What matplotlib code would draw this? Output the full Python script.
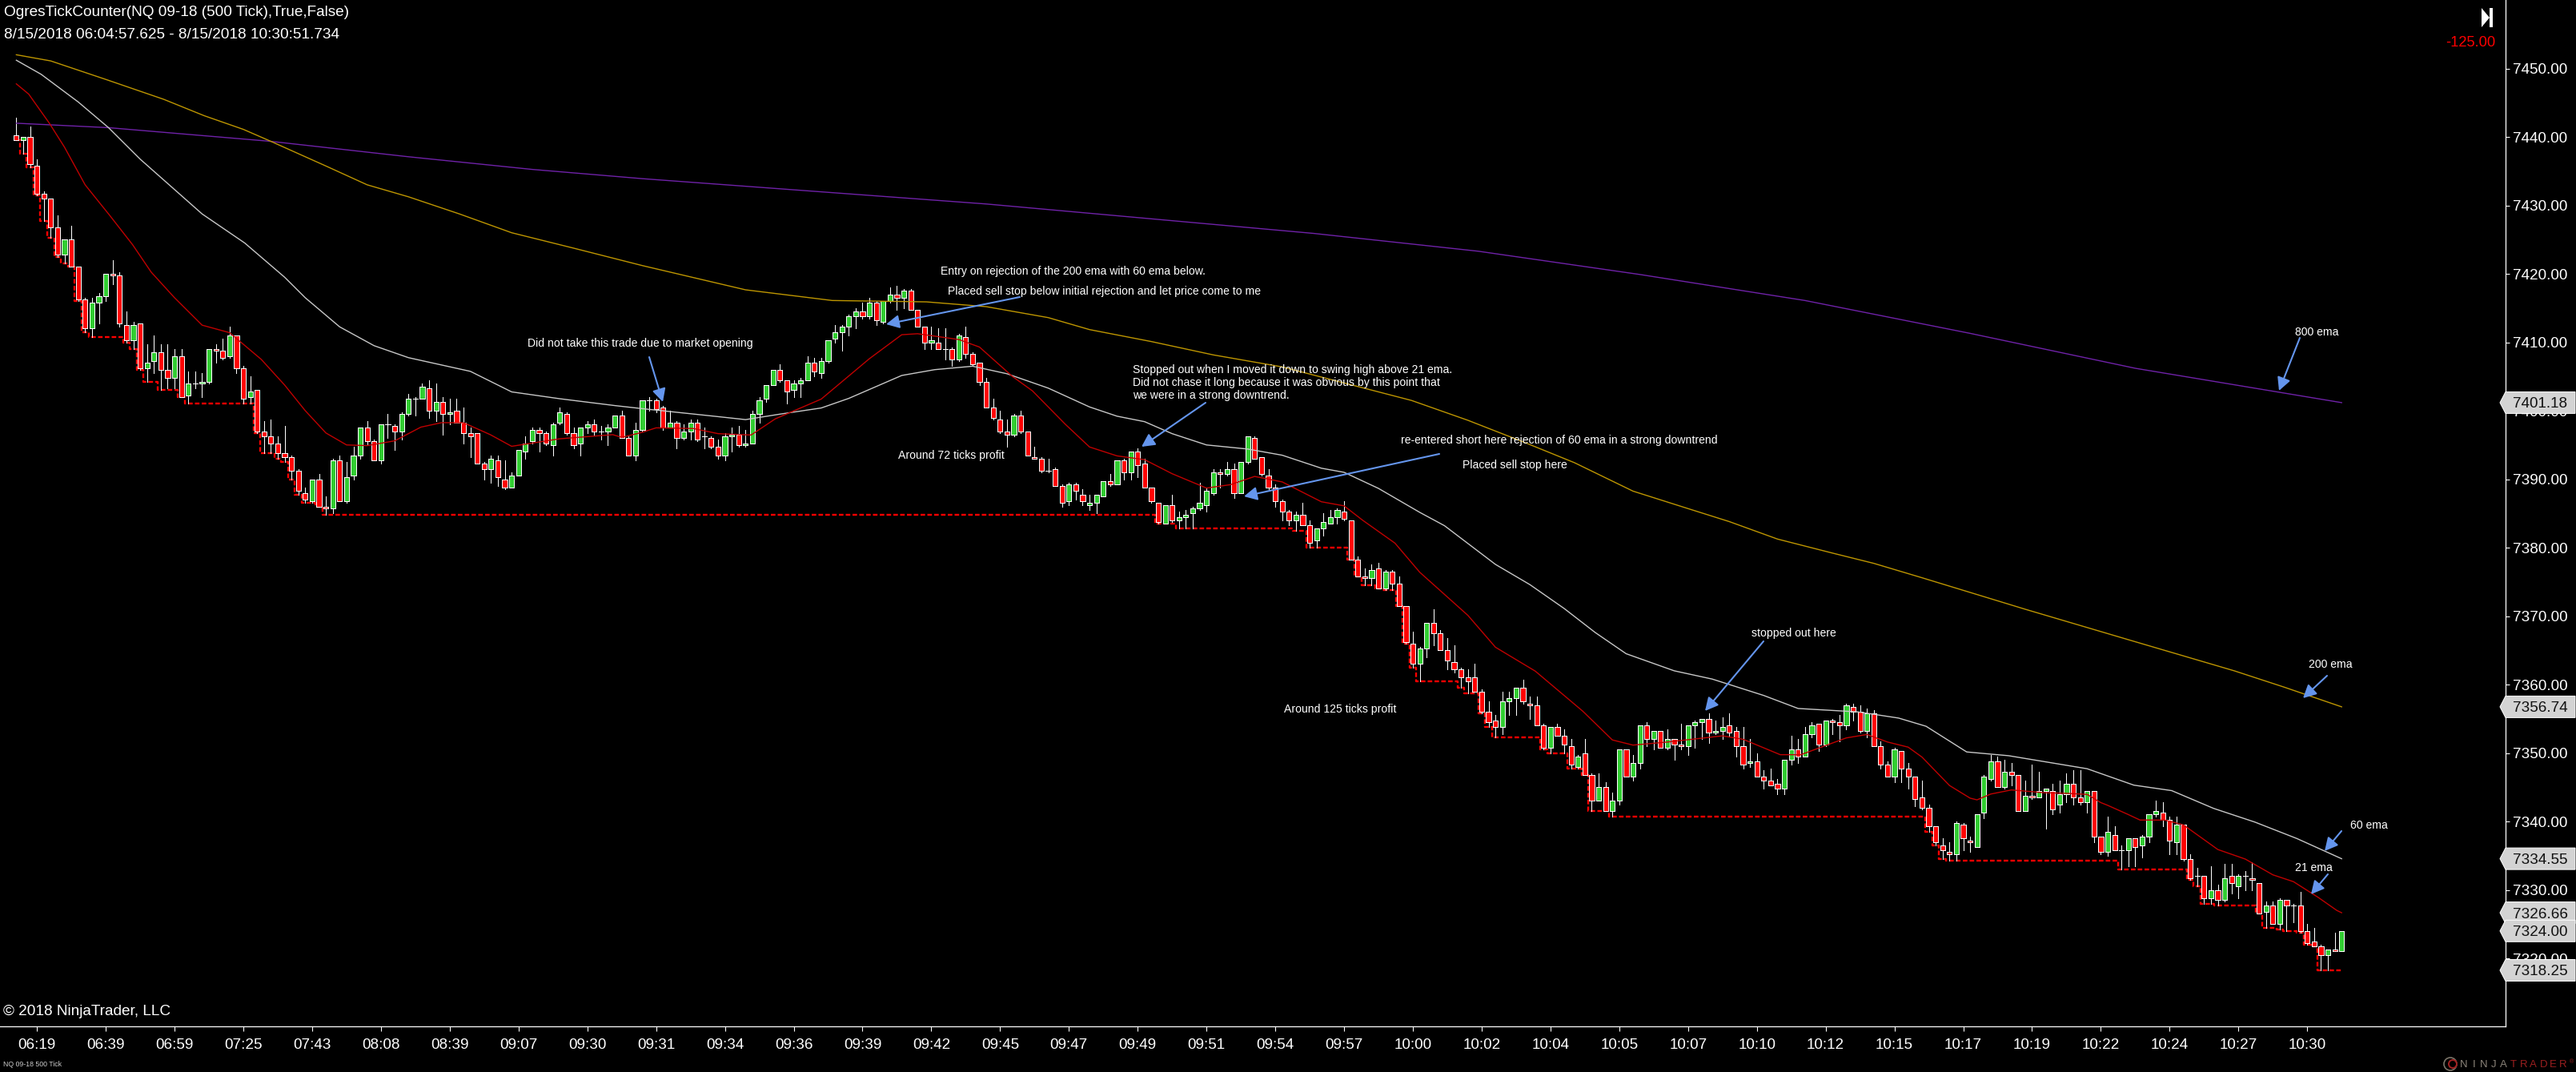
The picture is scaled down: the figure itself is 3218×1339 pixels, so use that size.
import numpy as np
import matplotlib
matplotlib.use('Agg')
import matplotlib.pyplot as plt
from matplotlib.patches import Polygon, Rectangle, Circle
from matplotlib.transforms import IdentityTransform

plt.rcParams['font.family'] = ['Liberation Sans', 'DejaVu Sans']

W, H = 3218, 1339

# candles, one row per ten bars
opens = [
    7440.25,7439.5,7440,7435.75,7431.75,7431,7426.75,7422.75,7425,7421,
    7416.25,7412,7415.75,7416.75,7420,7419.75,7412.5,7410.25,7412.75,7406.25,
    7407.25,7408.5,7406,7404.75,7408,7402.25,7404,7404,7404.25,7409,
    7408.75,7408,7411,7406.25,7402,7403,7397,7396.25,7395.25,7393.75,
    7393.25,7391.25,7388,7386.75,7390,7386,7385.75,7392.75,7386.75,7390.5,
    7393.5,7397.5,7395.5,7392.75,7398,7397.75,7397,7399.5,7401.75,7401.75,
    7403.25,7400,7401.25,7399.5,7400,7398.25,7396.75,7396.75,7392.25,7391.5,
    7392.75,7390,7388.75,7390.5,7394,7395.5,7397.25,7396.75,7395,7398.25,
    7399.5,7396.75,7395.25,7397.5,7398,7397,7397,7397.5,7399.25,7396,
    7393.5,7397.25,7401.5,7401.5,7400.5,7397.5,7398.25,7396,7397,7398.25,
    7396.25,7396,7394.75,7393.5,7396.25,7396.5,7395,7395.25,7399.5,7401.75,
    7403.75,7406,7404.5,7403,7404,7404.5,7407,7405.5,7407.25,7410.5,
    7411.5,7412.25,7413.75,7414.5,7413.75,7415.75,7413,7416,7417,7416.5,
    7417.5,7414.75,7412.25,7410,7410,7409,7409,7407.5,7410.75,7408.25,
    7407,7404.25,7400.5,7398.75,7397,7396.5,7399.25,7397,7393.25,7393,
    7391.25,7391.5,7389,7386.75,7389.25,7387.75,7386.25,7386.5,7387.5,7389.75,
    7389.25,7392.75,7391,7394,7392.25,7388.75,7386.5,7383.5,7386.25,7384,
    7384.5,7385,7385.75,7386.25,7388,7391,7390.75,7391.5,7388,7392.5,
    7396,7393.25,7390.5,7388.75,7386.75,7385.25,7384,7384.75,7383.25,7381,
    7382.75,7383.5,7384.5,7385.25,7384,7378.25,7375.75,7375.5,7377,7374,
    7376.5,7374.75,7371.5,7366,7363,7365.25,7369,7367.5,7365,7363.25,
    7362.25,7361,7361,7359,7356,7354.75,7353.75,7357.5,7358,7359.5,
    7357.25,7357,7354,7350.75,7353.75,7352.5,7351,7348,7350,7346.75,
    7343,7345,7341.5,7343,7350.5,7346.5,7348.5,7354,7352,7353.25,
    7350.75,7352,7351.25,7351,7354,7354.5,7355,7353,7353.25,7354,
    7353.25,7351,7348.5,7348.75,7346.5,7346,7345.5,7344.75,7349,7350.5,
    7349.5,7352.75,7354.25,7351.25,7354.75,7354.5,7354,7356.75,7356,7353.25,
    7355.75,7351,7348.25,7346.5,7350.25,7347.75,7346.5,7343.5,7342,7339.25,
    7336.5,7335.5,7335.25,7339.5,7337.25,7336.25,7341.25,7346.25,7348.75,7345,
    7347.25,7346.75,7341.5,7343.75,7343.5,7344.5,7344.5,7342.5,7344,7345.5,
    7343.5,7342.75,7344.5,7337.75,7335.5,7338,7335.75,7335.75,7337.5,7336.5,
    7337.75,7341,7341.25,7340.25,7337,7339.5,7334.5,7332,7332,7328.75,
    7330,7328.5,7332,7330.5,7332,7331.75,7331,7326.75,7327.75,7325,
    7328.5,7327.75,7327.75,7324,7322.5,7321.75,7320.5,7321.25,7321]

highs = [
    7442.75,7440,7441.5,7436.75,7432,7431,7428.5,7425,7427,7421,
    7416.5,7416.5,7417.25,7420,7422,7420.25,7414.5,7413,7412.75,7409.75,
    7411,7409.75,7409.75,7409,7409,7405.75,7405.75,7405.5,7409,7409.75,
    7410.5,7412.25,7411,7406.5,7405,7403,7398.5,7398.75,7396.25,7397.75,
    7393.5,7391.5,7388.75,7390,7390.75,7387.5,7393,7393.5,7392.5,7394.75,
    7397.5,7398.5,7395.75,7398,7399.5,7398,7399.75,7402.5,7402,7404,
    7404.5,7404,7402,7401.75,7401.75,7400.5,7397.5,7396.75,7392.5,7393.5,
    7393.5,7392.75,7391,7394.25,7396.25,7397.5,7397.5,7397,7398.25,7400.5,
    7399.75,7397.5,7397.5,7398.5,7398.75,7397.75,7398,7399.25,7400,7396.25,
    7398.25,7401.5,7402,7401.75,7400.75,7400,7398.5,7398,7398.75,7398.75,
    7397.5,7396.25,7395.75,7396.75,7397.5,7397.75,7397.25,7400,7402,7403.75,
    7406,7406.75,7404.5,7404.5,7404.75,7408,7407.75,7407.75,7410.25,7412.5,
    7412.5,7414,7415,7415.75,7416.5,7416,7416,7418,7418.25,7417.75,
    7417.75,7414.75,7412.25,7412.25,7412,7412,7409.25,7411.25,7412.25,7408.5,
    7407,7404.75,7401.75,7400,7398.75,7399.5,7400,7397,7394.75,7393.25,
    7393,7391.75,7389.25,7389.5,7389.5,7388.5,7387.75,7387.75,7389.75,7390.75,
    7392.75,7393,7394,7394.5,7393,7388.75,7386.5,7386.25,7387.75,7385.25,
    7385.5,7386,7389.5,7388.75,7391.5,7391.5,7392.5,7392.25,7392.5,7396.25,
    7396.25,7393.25,7391.5,7389.25,7387,7385.5,7385.25,7386.5,7384,7382.75,
    7385,7385.5,7385.75,7386.75,7384,7378.75,7377,7377.5,7377.75,7376.75,
    7376.75,7375.75,7371.5,7367.75,7365.5,7369,7371,7368,7366.75,7365.75,
    7362.5,7362.25,7363,7359.25,7357.5,7355.5,7359,7359,7359.5,7360.75,
    7358.25,7358.25,7354.25,7353.75,7354.25,7353.5,7352,7349.75,7352,7347,
    7347,7345.75,7344.25,7350.5,7350.5,7349.75,7354,7354.5,7353.25,7353.25,
    7353.5,7352,7354.25,7354,7354.75,7355,7355.75,7354.75,7355.25,7355.75,
    7353.75,7353.75,7352,7350,7347.5,7347.75,7346.25,7349,7352.5,7352,
    7353.75,7354.5,7354.25,7354.75,7355,7355.5,7357.25,7357.25,7357,7356.5,
    7356.25,7351.75,7348.75,7350.75,7350.25,7348.5,7346.5,7346,7342.5,7339.25,
    7337.5,7337,7340,7339.75,7337.75,7341,7346.75,7349.75,7349.5,7349,
    7348.5,7346.75,7346,7348.25,7347.25,7344.75,7345.5,7346,7347,7347.5,
    7347.5,7344.5,7344.5,7337.75,7340.75,7339.25,7336.5,7337.5,7337.5,7338,
    7341,7343,7342.75,7340.75,7340.75,7339.5,7335.25,7333.25,7332,7333.5,
    7330.75,7333.75,7333.75,7332.25,7332.75,7334,7331,7328.25,7328.25,7328.75,
    7328.5,7328,7329.75,7325,7324.5,7322,7321.25,7323.75,7324]

lows = [
    7439.5,7437.5,7435.5,7431.5,7427.75,7425.25,7422.5,7421.5,7421,7416,
    7411.5,7410.75,7412.75,7416,7418.5,7412.25,7410,7409,7406,7404.25,
    7405.5,7403,7403.25,7403.25,7402,7401,7403.25,7402,7404,7407,
    7407.5,7407.75,7405.5,7401,7401,7396.75,7393.75,7393.75,7393,7392.5,
    7390,7387.75,7386.5,7386.5,7386,7384.75,7385,7386.75,7386.5,7390,
    7393,7395,7392.75,7392.25,7396,7394.25,7395.75,7399.25,7399.25,7401.75,
    7399,7398.5,7396.5,7398,7398.25,7395.25,7393.25,7392.25,7390,7389.5,
    7389,7388.5,7388.75,7390.5,7393,7395.25,7394,7395,7393.5,7398,
    7396.5,7394.5,7393.5,7396.75,7396.5,7395.75,7395,7397.5,7396,7393.5,
    7392.75,7397,7400,7399.75,7397.25,7397.5,7394.5,7395.75,7395.75,7395.5,
    7394.5,7394.5,7393,7392.75,7394,7394.75,7394.75,7395.25,7398.25,7401.25,
    7403.75,7404.25,7401,7402,7402,7404.5,7405,7404.75,7407,7410,
    7408.75,7411,7412,7413.5,7413.5,7412.5,7412.75,7415.75,7414.75,7415,
    7414.75,7412.25,7409,7409,7409,7407.5,7406.5,7407.25,7407.75,7406.5,
    7403.75,7400.5,7398.75,7396.75,7394.75,7396.25,7396.75,7393.5,7393,7391,
    7391,7389,7386,7386.25,7387,7386.25,7385.5,7385,7387.5,7389,
    7389.25,7390,7390,7390.25,7388.75,7386.5,7383.5,7383.5,7383.75,7382.75,
    7382.75,7382.75,7385.5,7385.25,7387.75,7388.75,7390.5,7387.25,7388,7392.25,
    7393,7390.5,7388.5,7386,7384,7383.25,7382.5,7383.25,7380,7380,
    7381.75,7383.5,7383.5,7384,7378.25,7375.75,7374.5,7374.5,7374,7373.75,
    7373.75,7371.5,7366,7362.5,7360.5,7364,7365.75,7365,7362.25,7361.75,
    7359.5,7358.75,7359,7355.75,7353.75,7352.25,7352.75,7355.5,7355.5,7357.25,
    7355,7354,7350.5,7350,7352.5,7350,7347.75,7347.75,7346.75,7341.5,
    7343,7341.5,7340.75,7342.5,7346.5,7346,7347.75,7351,7350.5,7350.75,
    7350.5,7349,7350.5,7349.75,7350.75,7352,7351.5,7352.75,7352,7352.5,
    7349.5,7347.75,7348,7346.5,7344.75,7345.25,7344,7344,7348.25,7348.5,
    7349.5,7352.25,7350.25,7351,7352.75,7351.75,7353.5,7354.75,7353,7352.25,
    7351,7347.75,7346.5,7345.75,7345.75,7344.75,7342.25,7341.75,7338.5,7336.5,
    7334.5,7334.25,7334.25,7335.75,7335.5,7336.25,7340.5,7346,7345,7344.75,
    7345.25,7341.5,7341.5,7343.25,7343.5,7339,7341,7341.25,7342.75,7342.5,
    7342.5,7341.25,7337,7335.25,7335,7335.75,7333,7333.5,7333.5,7334.75,
    7337,7340.75,7339.25,7335.25,7335.25,7334.25,7331.5,7330.5,7328,7328,
    7327.75,7328.25,7329.5,7328.75,7330,7330,7326.5,7324.5,7325,7324.25,
    7324,7325.25,7323.75,7322,7321.75,7318.25,7318.25,7321,7321]

closes = [
    7439.5,7440,7436,7431.75,7431,7426.75,7422.75,7425,7421,7416.25,
    7412,7415.75,7416.75,7420,7419.75,7412.75,7410.25,7412.5,7406.25,7407,
    7408.5,7406,7404.75,7408,7402,7404,7404,7404.25,7409,7408.75,
    7407.75,7411,7406.25,7401.75,7402.75,7397,7396.25,7395.25,7393.75,7393.25,
    7391.25,7388.25,7387,7390,7386,7385.75,7392.75,7386.75,7390.25,7393.5,
    7397.5,7395.5,7392.75,7398,7398,7397,7399.5,7401.75,7401.75,7403.5,
    7400,7401.25,7399.5,7399.75,7398.25,7396.75,7396.25,7392.25,7391.5,7393,
    7390.25,7388.75,7390.5,7394.25,7395.25,7397.25,7396.75,7395.25,7398,7399.75,
    7396.75,7395,7397.5,7398,7397,7397,7397.5,7399.25,7396,7393.5,
    7397.25,7401.5,7401.5,7400.25,7397.5,7398.25,7396,7397,7398.25,7395.75,
    7396.25,7394.75,7393.5,7396.25,7396.5,7395,7395.25,7399.5,7401.5,7403.75,
    7406,7404.5,7402.75,7404,7404.5,7407,7405.75,7407.25,7410.25,7411.5,
    7412.25,7413.75,7414.5,7413.75,7415.75,7413.25,7416,7417,7416.5,7417.5,
    7414.75,7412.25,7410,7410.25,7409,7409,7407.5,7411,7408.25,7406.75,
    7404.25,7400.5,7399,7397,7396.5,7399.25,7397,7393.5,7393,7391.25,
    7391.25,7389,7386.5,7389.25,7388.25,7386.75,7386.5,7387.75,7389.75,7389.25,
    7392.75,7391,7394,7392,7388.75,7386.75,7383.75,7386.25,7384,7384.5,
    7384.75,7385.75,7386.5,7388.25,7391,7390.75,7391.5,7388,7392.5,7396.25,
    7393,7390.75,7388.75,7386.75,7385.25,7384,7384.75,7383.25,7380.75,7382.75,
    7383.75,7384.5,7385.5,7384.25,7378.25,7375.75,7375.5,7376.75,7374,7376.5,
    7374.75,7371.5,7366.25,7363,7365.25,7369,7367.5,7365,7363.5,7362.25,
    7361,7360.5,7359,7356,7354.5,7353.75,7357.5,7358,7359.5,7357.5,
    7357,7354,7350.75,7353.75,7352.5,7351.25,7348.25,7349.5,7346.75,7343,
    7345,7341.5,7343,7350.5,7346.5,7348.5,7354,7352,7353.25,7350.75,
    7352,7351.25,7351,7354,7354.5,7355,7353,7353.25,7353.75,7353,
    7351,7348.25,7348.75,7346.5,7346,7345.25,7344.75,7349,7350.5,7349.5,
    7352.75,7354,7351.25,7354.75,7354.5,7354,7357,7356,7353.25,7355.75,
    7351,7348.25,7346.5,7350.5,7347.75,7346.5,7343.25,7342,7339.25,7337,
    7335.75,7335.25,7339.75,7337.5,7337,7341,7346.5,7348.75,7345,7347.25,
    7346.75,7341.5,7343.75,7343.5,7344.5,7344.75,7341.75,7344,7345.5,7343.5,
    7342.75,7344.5,7337.75,7335.5,7338.5,7335.75,7335.75,7337.5,7336.25,7337.75,
    7341,7341.5,7340.25,7337.25,7339.5,7334.5,7331.75,7332,7328.75,7330,
    7328.5,7331.75,7331,7332,7332,7331.5,7326.5,7327.75,7325,7328.5,
    7327.75,7327.75,7324,7322.25,7321.75,7320.5,7321.25,7321,7324]

# moving averages: bar number and price pairs
ema800_bars = [0,13.4,37,57,75,91,141,188.6,212.5,236,260,284,308,338]
ema800 = [7442,7441.35,7439.35,7437.1,7435.25,7433.9,7430.2,7425.9,7423.3,7419.9,7416.1,7411.3,7406.2,7401.18]

ema200_bars = [0,5,13,21.4,27.3,33,37,45,51,57,64.4,72,81,91,106,118.6,132.3,141,150,156,165,174,184,
               202.8,211,219.4,226.5,235,243,249,256,264,270,277,292,307.5,322.4,329.7,338]
ema200 = [7452,7451.1,7448.4,7445.5,7443.1,7441.1,7439.35,7435.75,7433,7431.25,7428.75,7426,7423.75,7421.2,
          7417.66,7416.1,7415.9,7415.2,7413.6,7411.85,7410.1,7408.15,7406.4,7401.5,7398.6,7395.3,7392.4,
          7388.25,7385.7,7383.8,7381.25,7379.2,7377.7,7375.6,7371,7366.4,7362,7359.6,7356.74]

ema60_bars = [0,3.6,9,13.4,18,27,33.2,39,42,47,52,57,66,72,79,87,91,101.4,106,111,117,121,128.7,133.5,139,144,
              150,156,160,164,168,173,179,184,189.7,193,198,204,207.6,215,220,225,229.5,234,241,246.5,254,259,
              267.7,273.6,277.6,283.5,289.6,301,307.8,313.3,319.4,325.4,331.5,338]
ema60 = [7451.2,7449.15,7445.1,7441.35,7436.75,7428.75,7424.5,7419.5,7416.5,7412.25,7409.5,7407.75,7405.75,
         7402.75,7401.75,7400.75,7400.3,7399.2,7398.7,7399.5,7400.4,7401.8,7405.15,7406,7406.5,7405.4,7403.3,
         7400.55,7399.2,7398.4,7396.65,7395,7394.4,7393.5,7391.6,7391,7388.65,7385.15,7383.2,7377.55,7374.6,
         7371.1,7367.6,7364.5,7362,7360.8,7358.4,7356.5,7356,7355.1,7353.9,7350.15,7349.6,7347.7,7345.3,
         7344.5,7341.9,7339.9,7337.5,7334.55]

ema21_bars = [0,1.8,4.8,7,10,13.6,16.9,19.6,23,27,31,35.6,39,42,45,48,51,55,58.8,61.8,65,68.9,72,79,86.7,88,91,
              93,98.4,102,106.8,110.3,117,124,128.7,131,137,140,144.8,147.7,152.5,156,160,164,168,173,176.5,
              180,184,189.7,193,195.7,200.4,204,211,215,220.8,227.7,232,235,240,248,251,256.4,259.4,266,269,
              272,275,277,281,284,285,287,290,294.7,298,301,303,304,307,308.7,312.3,315,320,324,328,331,334.6,
              337.3,338]
ema21 = [7447.75,7446.25,7442,7438.5,7433,7428.5,7424.25,7420.25,7416.5,7412.5,7411.4,7407.5,7403.75,7400,
         7396.75,7395,7394.9,7395.6,7397.6,7398.25,7398.25,7396.5,7394.8,7395.9,7396.5,7396.1,7396.85,7397.5,
         7397.4,7396.65,7396.45,7398.8,7401.7,7407.6,7411.1,7411.25,7410.4,7409.3,7405,7402.9,7398,7394.7,
         7393.4,7392.85,7390.8,7388.7,7389.2,7390.4,7389.6,7386.7,7386.1,7384,7380.65,7376.4,7370.1,7365.45,
         7361.95,7356.1,7351.9,7351.15,7351.6,7352.5,7352,7349.75,7349.75,7352.2,7352.7,7351.6,7350.85,7349.4,
         7345.25,7343.4,7343.15,7344,7344.6,7344.2,7344.1,7343.95,7342.75,7342.35,7341,7340.2,7340.2,7339.5,
         7335.9,7334.5,7332.2,7331.2,7328.9,7327,7326.66]

x_tick_bars = list(range(3, 343, 10))
x_tick_labels = ['06:19','06:39','06:59','07:25','07:43','08:08','08:39','09:07','09:30','09:31','09:34','09:36',
                 '09:39','09:42','09:45','09:47','09:49','09:51','09:54','09:57','10:00','10:02','10:04','10:05',
                 '10:07','10:10','10:12','10:15','10:17','10:19','10:22','10:24','10:27','10:30']
y_ticks = list(range(7320, 7460, 10))
last_prices = [7401.18, 7356.74, 7334.55, 7326.66, 7324.00, 7318.25]

BLUE = '#6495ED'


fig = plt.figure(figsize=(W/100, H/100), dpi=100, facecolor='black')
ax = fig.add_axes([0, (H-1282)/H, 3130/W, 1282/H], facecolor='black')
ax.set_xlim(-2.374, 361.83)
ax.set_ylim(7310.06, 7460)

o = np.array(opens)
c = np.array(closes)
h = np.array(highs)
l = np.array(lows)
bars = np.arange(len(o))

# the stepped dashed line just follows the lowest low so far
ax.plot(bars, np.minimum.accumulate(l), color='#FF0000', lw=1.7, ls=(0, (2.4, 1.2)),
        drawstyle='steps-mid', zorder=2)

ax.vlines(bars, l, h, color='white', lw=0.68, zorder=2.5, antialiased=False)
colors = ['#FF0000' if a > b else '#32CD32' for a, b in zip(o, c)]
ax.bar(bars, np.abs(c-o), bottom=np.minimum(o, c), width=0.72, color=colors,
       edgecolor='white', linewidth=0.68, zorder=3, antialiased=False)

ax.plot(ema800_bars, ema800, color='#6F22A8', lw=1.0, zorder=4)
ax.plot(ema200_bars, ema200, color='#BE9600', lw=1.0, zorder=4)
ax.plot(ema60_bars, ema60, color='#C8C8C8', lw=1.0, zorder=4)
ax.plot(ema21_bars, ema21, color='#C00000', lw=1.0, zorder=4)

for s in ['top', 'left']:
    ax.spines[s].set_visible(False)
for s in ['right', 'bottom']:
    ax.spines[s].set_color('white')
    ax.spines[s].set_linewidth(0.9)

ax.yaxis.tick_right()
ax.set_yticks(y_ticks)
ax.set_yticklabels(['%.2f' % v for v in y_ticks])
ax.set_xticks(x_tick_bars)
ax.set_xticklabels(x_tick_labels)
ax.tick_params(axis='y', colors='white', labelsize=13.6, length=3.8, width=0.8, pad=2.5)
ax.tick_params(axis='x', colors='white', labelsize=13.6, length=4.2, width=0.8, pad=6.5)


def px_text(x, y, s, size=10.1, color='white', ha='left', **kw):
    return fig.text(x/W, 1-y/H, s, fontsize=size, color=color, ha=ha, va='center', **kw)


# annotations drawn by hand on the chart
notes = [
    (1175, 339, 'Entry on rejection of the 200 ema with 60 ema below.'),
    (1184, 364, 'Placed sell stop below initial rejection and let price come to me'),
    (659, 429, 'Did not take this trade due to market opening'),
    (1122, 569, 'Around 72 ticks profit'),
    (1415, 462, 'Stopped out when I moved it down to swing high above 21 ema.'),
    (1415, 478, 'Did not chase it long because it was obvious by this point that'),
    (1415, 494, 'we were in a strong downtrend.'),
    (1750, 550, 're-entered short here rejection of 60 ema in a strong downtrend'),
    (1827, 581, 'Placed sell stop here'),
    (2188, 791, 'stopped out here'),
    (1604, 886, 'Around 125 ticks profit'),
    (2867, 415, '800 ema'),
    (2884, 830, '200 ema'),
    (2936, 1031, '60 ema'),
    (2867, 1084, '21 ema'),
]
for x, y, s in notes:
    px_text(x, y, s)

arrows = [
    ((811, 446), (828, 502)),
    ((1274, 371), (1107, 405)),
    ((1506, 503), (1426, 558)),
    ((1798, 567), (1554, 620)),
    ((2203, 801), (2130, 888)),
    ((2873, 422), (2847, 488)),
    ((2907, 844), (2877, 872)),
    ((2925, 1038), (2904, 1063)),
    ((2908, 1092), (2887, 1117)),
]
for tail, head in arrows:
    ax.annotate('', xy=(head[0], H-head[1]), xytext=(tail[0], H-tail[1]),
                xycoords='figure pixels', textcoords='figure pixels', zorder=6,
                arrowprops=dict(arrowstyle='-|>,head_length=0.7,head_width=0.36', mutation_scale=14,
                                color=BLUE, lw=1.5, shrinkA=0, shrinkB=0))

# price markers on the axis
for i, p in enumerate(last_prices):
    yp = ax.transData.transform((0, p))[1]
    poly = Polygon([(3123, yp), (3130, yp+13.5), (3217, yp+13.5), (3217, yp-13.5), (3130, yp-13.5)],
                   closed=True, facecolor='#D3D3D3', edgecolor='white', lw=0.7,
                   transform=IdentityTransform(), clip_on=False, zorder=5+i)
    ax.add_patch(poly)
    ax.text(3139, yp, '%.2f' % p, fontsize=13.6, color='#111111', va='center_baseline', ha='left',
            transform=IdentityTransform(), clip_on=False, zorder=5.5+i)

px_text(5, 16, 'OgresTickCounter(NQ 09-18 (500 Tick),True,False)', size=13.7)
px_text(5, 44, '8/15/2018 06:04:57.625 - 8/15/2018 10:30:51.734', size=13.7)
px_text(3117, 53, '-125.00', size=13.2, color='#FF0000', ha='right')
px_text(4, 1264, '\u00a9 2018 NinjaTrader, LLC', size=13.7)
px_text(4, 1330, 'NQ 09-18 500 Tick', size=6.3, color='#CCCCCC')

# jump-to-end button, top right
fig.add_artist(Polygon([(3100/W, 1-10/H), (3100/W, 1-34/H), (3110/W, 1-22/H)], closed=True,
                       facecolor='white', edgecolor='none', transform=fig.transFigure))
fig.add_artist(Rectangle((3110/W, 1-34/H), 4/W, 24/H, facecolor='white', edgecolor='none',
                         transform=fig.transFigure))

# logo, bottom right
logo_x = 3078
for ch, col in zip('NINJATRADER', ['#8A8378']*5 + ['#9C1F1F']*6):
    px_text(logo_x, 1330, ch, size=9.5, color=col, ha='center')
    logo_x += 12.4
px_text(3213, 1327, '\u00ae', size=5, color='#9C1F1F', ha='center')
fig.add_artist(Circle((3061, H-1329), 8, facecolor='none', edgecolor='#7A7468', lw=1.2,
                      transform=IdentityTransform()))
fig.add_artist(Circle((3064, H-1329), 5, facecolor='none', edgecolor='#A02020', lw=1.4,
                      transform=IdentityTransform()))

fig.savefig('out.png', dpi=100, facecolor='black')
